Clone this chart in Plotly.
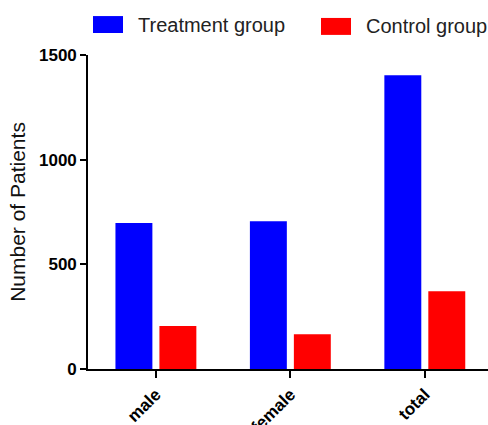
import plotly.graph_objects as go

categories = ["male", "female", "total"]
series_names = ["Treatment group", "Control group"]
treatment_values = [697, 706, 1403]
control_values = [206, 166, 372]
y_tick_values = [0, 500, 1000, 1500]
y_tick_labels = ["0", "500", "1000", "1500"]
colors = ["#0000FF", "#FF0000"]

FONT = "Liberation Sans, Arial, sans-serif"

fig = go.Figure()
for name, vals, col in zip(series_names, [treatment_values, control_values], colors):
    fig.add_trace(go.Bar(x=categories, y=vals, name=name, marker=dict(color=col, line=dict(width=0)),
                         showlegend=False))

fig.update_layout(
    width=488, height=425,
    margin=dict(l=88, r=0, t=55, b=56, autoexpand=False),
    plot_bgcolor="white", paper_bgcolor="white",
    barmode="group", bargap=0.346, bargroupgap=0.16,
    font=dict(family=FONT, color="#111"),
)
fig.update_xaxes(
    range=[-0.505, 2.47], showline=True, linecolor="black", linewidth=1.6,
    ticks="outside", ticklen=7, tickwidth=1.6, tickcolor="black",
    tickangle=-45, tickfont=dict(family=FONT, size=17, color="black", weight="bold"),
    showgrid=False, zeroline=False, automargin=False,
)
fig.update_yaxes(
    range=[0, 1500], showline=True, linecolor="black", linewidth=1.6,
    ticks="outside", ticklen=6, tickwidth=1.6, tickcolor="black",
    tickvals=y_tick_values, ticktext=y_tick_labels,
    tickfont=dict(family=FONT, size=17, color="black", weight="bold"),
    showgrid=False, zeroline=False, automargin=False,
    title=dict(text="Number of Patients", font=dict(family=FONT, size=21, color="#111"), standoff=8),
)

# custom legend (large swatches as in the reference)
legend_pos = [(0.0125, 1.070, 1.124), (0.5825, 1.064, 1.118)]
for (x0, y0, y1), name, col in zip(legend_pos, series_names, colors):
    fig.add_shape(type="rect", xref="paper", yref="paper", x0=x0, x1=x0 + 0.075, y0=y0, y1=y1,
                  fillcolor=col, line=dict(width=0))
    fig.add_annotation(xref="paper", yref="paper", x=x0 + 0.108, y=(y0 + y1) / 2, text=name,
                       showarrow=False, xanchor="left", yanchor="middle",
                       font=dict(family=FONT, size=20, color="#222"))

fig.write_html(
    "out.html",
    config={"displayModeBar": False},
    post_script="document.body.style.margin='0';document.body.style.overflow='hidden';"
                "document.documentElement.style.overflow='hidden';",
)
